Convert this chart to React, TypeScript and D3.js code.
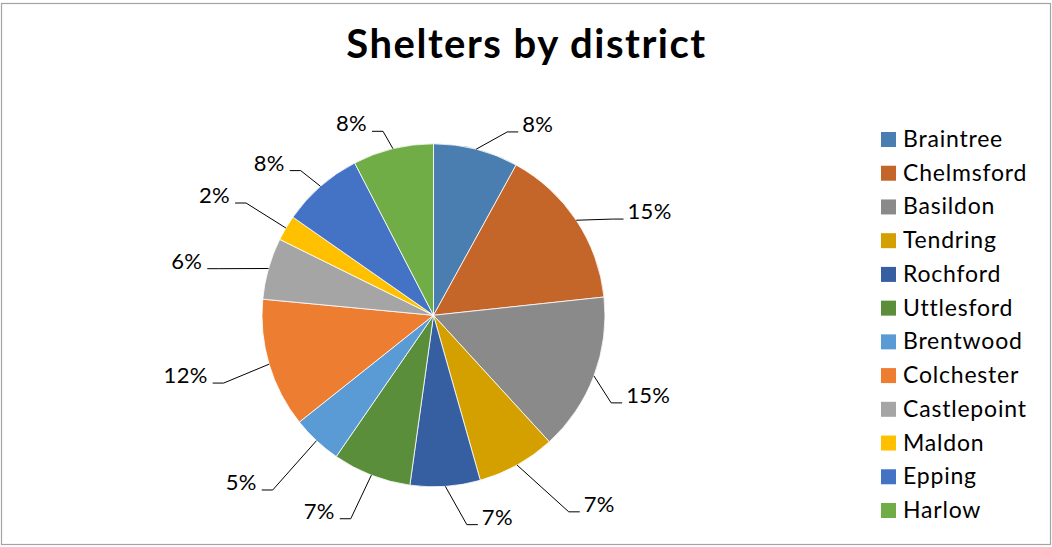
import React from "react";
import * as d3 from "d3";

// ---- data ----
const categories = [
  "Braintree", "Chelmsford", "Basildon", "Tendring", "Rochford", "Uttlesford",
  "Brentwood", "Colchester", "Castlepoint", "Maldon", "Epping", "Harlow",
];
const shares = [8.0, 15.3, 14.9, 7.4, 6.6, 7.4, 4.7, 12.2, 5.8, 2.4, 7.7, 7.6];
const colors = [
  "#4a7eb0", "#c4662a", "#8a8a8a", "#d4a000", "#365fa2", "#5a8e3a",
  "#5b9bd5", "#ed7d31", "#a5a5a5", "#ffc000", "#4472c4", "#70ad47",
];
const title = "Shelters by district";

// ---- layout (label placement: angle shift in degrees, distance from centre) ----
const labelLayout: [number, number][] = [
  [10.4, 202], [6.8, 213], [4.2, 208], [-7.5, 245], [-8, 214], [3.5, 224],
  [1.5, 245], [-0.5, 231], [-4.2, 231], [-1.1, 228], [-3.6, 204], [-4.8, 194],
];

const W = 1052;
const H = 547;
const cx = 433.5;
const cy = 315.3;
const R = 171.5;
const FONT = "Lato, 'Open Sans', sans-serif";

function polar(angle: number, r: number): [number, number] {
  return [cx + r * Math.sin(angle), cy - r * Math.cos(angle)];
}

export default function App() {
  const pie = d3.pie<number>().sort(null).value((d) => d);
  const arcs = pie(shares);
  const arc = d3.arc<d3.PieArcDatum<number>>().innerRadius(0).outerRadius(R);
  const total = d3.sum(shares);

  const legendY = d3.scalePoint<string>().domain(categories).range([139.5, 510.5]);

  return (
    <svg
      width={W}
      height={H}
      style={{ position: "absolute", left: 0, top: 0, background: "#fff" }}
    >
      <rect x={0} y={0} width={W} height={H} fill="#fff" />
      <rect x={1.5} y={3.5} width={1049} height={541} fill="#fff" stroke="#a3a3a3" strokeWidth={1.2} />
      <text
        x={526.5}
        y={58}
        textAnchor="middle"
        fontFamily={FONT}
        fontWeight="bold"
        fontSize={40}
        letterSpacing={1.5}
        fill="#000"
      >
        {title}
      </text>
      <g transform={`translate(${cx},${cy})`}>
        {arcs.map((a, i) => (
          <path key={i} d={arc(a) || ""} fill={colors[i]} stroke="#fff" strokeWidth={0.8} />
        ))}
      </g>
      {arcs.map((a, i) => {
        const mid = (a.startAngle + a.endAngle) / 2;
        const [shift, dist] = labelLayout[i];
        const P = polar(mid + (shift * Math.PI) / 180, dist);
        const S = polar(mid, R);
        const right = Math.sin(mid) > 0;
        const ex = right ? P[0] - 11 : P[0] + 11;
        const pct = Math.round((a.value / total) * 100) + "%";
        return (
          <g key={i}>
            <polyline
              points={`${S[0]},${S[1]} ${ex},${P[1]} ${P[0]},${P[1]}`}
              fill="none"
              stroke="#000"
              strokeWidth={1}
            />
            <text
              x={right ? P[0] + 4 : P[0] - 5}
              y={P[1]}
              textAnchor={right ? "start" : "end"}
              fontFamily={FONT}
              fontSize={22}
              letterSpacing={0.3}
              fill="#000"
            >
              {pct}
            </text>
          </g>
        );
      })}
      {categories.map((c, i) => {
        const y = legendY(c) as number;
        return (
          <g key={c}>
            <rect x={881} y={y - 7.5} width={15} height={15} fill={colors[i]} />
            <text x={903} y={y + 7.5} fontFamily={FONT} fontSize={23} letterSpacing={0.8} fill="#000">
              {c}
            </text>
          </g>
        );
      })}
    </svg>
  );
}
